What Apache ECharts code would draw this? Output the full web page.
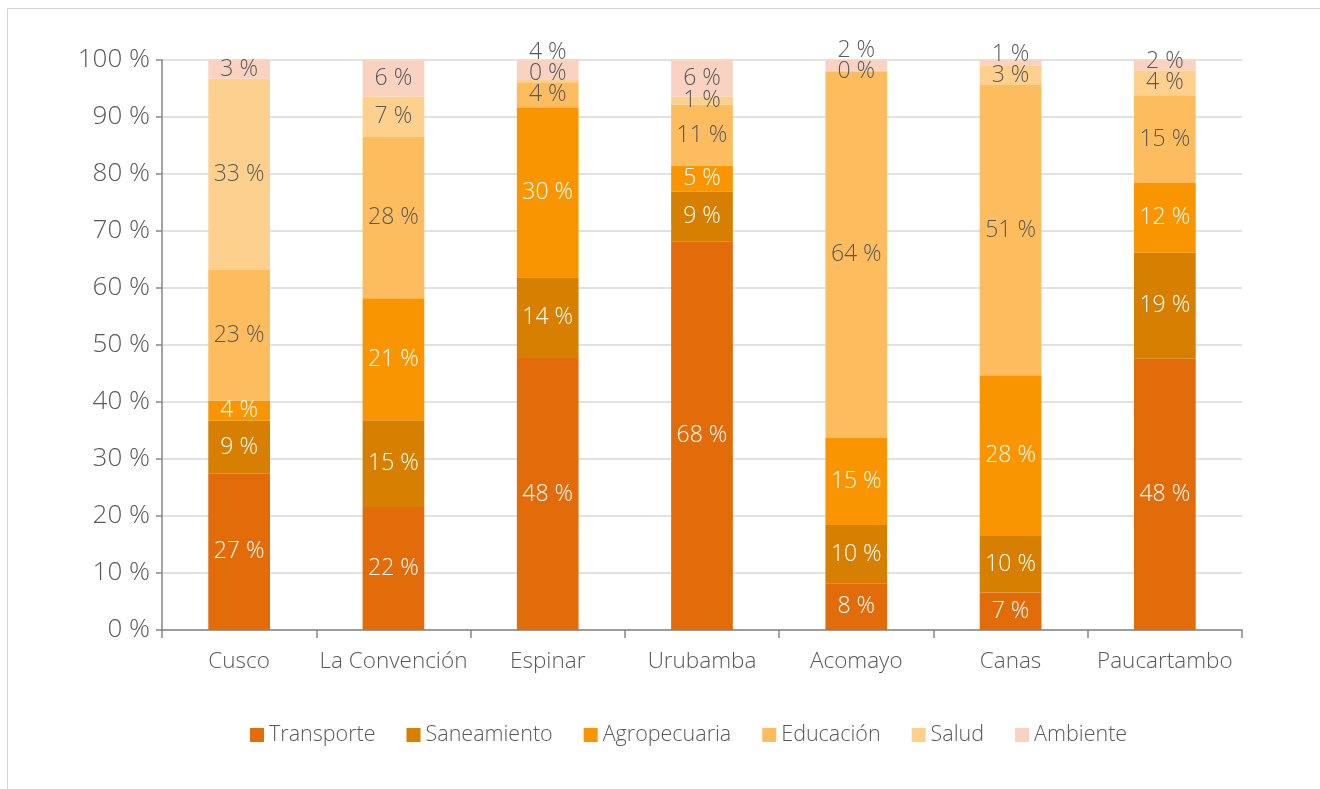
<!DOCTYPE html>
<html>
<head>
<meta charset="utf-8">
<style>
  html, body { margin: 0; padding: 0; background: #fff; }
  #chart { width: 1320px; height: 789px; }
</style>
<script src="https://cdn.jsdelivr.net/npm/echarts@6/dist/echarts.min.js"></script>
</head>
<body>
<div id="chart"></div>
<script>
const FONT = '"Open Sans", "Noto Sans", sans-serif'

const provincias = ['Cusco', 'La Convención', 'Espinar', 'Urubamba', 'Acomayo', 'Canas', 'Paucartambo']
const sectores = ['Transporte', 'Saneamiento', 'Agropecuaria', 'Educación', 'Salud', 'Ambiente']

// porcentaje por sector
const transporte   = [27.4, 21.6, 47.7, 68.2, 8.2, 6.6, 47.6]
const saneamiento  = [9.3, 15.2, 14.2, 8.7, 10.2, 9.9, 18.6]
const agropecuaria = [3.5, 21.4, 29.8, 4.6, 15.3, 28.2, 12.2]
const educacion    = [23.1, 28.3, 4.4, 10.7, 64.2, 50.9, 15.4]
const salud        = [33.4, 7.1, 0.4, 1.4, 0.2, 3.4, 4.4]
const ambiente     = [3.3, 6.4, 3.5, 6.4, 1.9, 1.0, 1.8]

const yTicks = [0, 10, 20, 30, 40, 50, 60, 70, 80, 90, 100]

const valores = [transporte, saneamiento, agropecuaria, educacion, salud, ambiente]
const colores = ['#E36C0A', '#D67F00', '#F89500', '#FDBD5F', '#FED08E', '#F9D2C2']
const colorTexto = ['#fff', '#fff', '#fff', '#595959', '#595959', '#595959']

// plot area: 0 % at y=630, 100 % at y=60
const PX_PER_PCT = 5.7
const GAP = 21 / PX_PER_PCT // separación mínima entre etiquetas

// desplaza etiquetas de segmentos pequeños hacia arriba para que no se encimen
const offsets = valores.map(() => [])
provincias.forEach((p, c) => {
  let base = 0
  let prev = -Infinity
  valores.forEach((serie, s) => {
    const v = serie[c]
    const mid = base + v / 2
    const pos = Math.max(mid, prev + GAP)
    offsets[s][c] = -(pos - mid) * PX_PER_PCT
    prev = pos
    base += v
  })
})

const chart = echarts.init(document.getElementById('chart'))

chart.setOption({
  backgroundColor: '#fff',
  animation: false,
  graphic: [{
    type: 'rect',
    shape: { x: 7.5, y: 8.5, width: 1400, height: 900 },
    style: { fill: 'none', stroke: '#d4d4d4', lineWidth: 1 },
    silent: true,
  }],
  grid: { left: 162, right: 78, top: 60, bottom: 159 },
  legend: {
    bottom: 38,
    left: 245,
    itemWidth: 14,
    itemHeight: 14,
    itemGap: 31,
    icon: 'rect',
    textStyle: { color: '#595959', fontSize: 21.5, fontFamily: FONT, fontWeight: 300 },
    data: sectores,
  },
  xAxis: {
    type: 'category',
    data: provincias,
    axisLine: { lineStyle: { color: '#868686', width: 1.5 } },
    axisTick: { show: true, interval: 0, length: 8, lineStyle: { color: '#868686', width: 1.5 } },
    axisLabel: { interval: 0, color: '#595959', fontSize: 22.5, fontFamily: FONT, fontWeight: 300, margin: 20 },
  },
  yAxis: {
    type: 'value',
    min: yTicks[0],
    max: yTicks[yTicks.length - 1],
    interval: 10,
    axisLine: { show: true, lineStyle: { color: '#868686', width: 1.5 } },
    axisTick: { show: true, length: 6, lineStyle: { color: '#868686', width: 1.5 } },
    splitLine: { lineStyle: { color: '#d9d9d9', width: 1.5 } },
    axisLabel: { color: '#595959', fontSize: 26, fontFamily: FONT, fontWeight: 300, margin: 12, formatter: '{value} %' },
  },
  series: sectores.map((nombre, s) => ({
    name: nombre,
    type: 'bar',
    stack: 'total',
    barWidth: '40%',
    itemStyle: { color: colores[s] },
    label: {
      show: true,
      position: 'inside',
      color: colorTexto[s],
      fontSize: 23,
      fontFamily: FONT,
      fontWeight: 300,
      formatter: (p) => Math.round(p.value) + ' %',
    },
    data: valores[s].map((v, c) => ({ value: v, label: { offset: [0, offsets[s][c]] } })),
  })),
})
</script>
</body>
</html>
